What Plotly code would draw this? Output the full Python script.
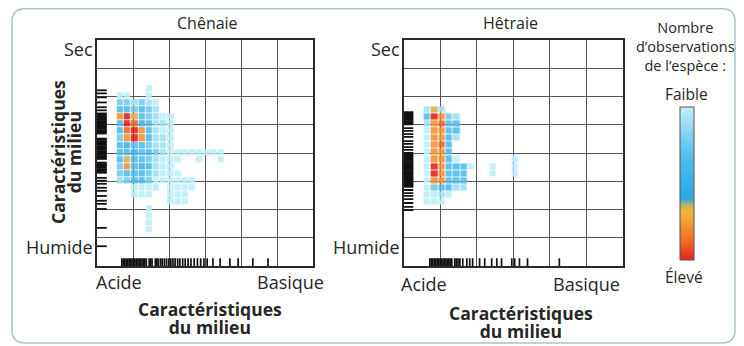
import plotly.graph_objects as go

# ---------------- data ----------------
panel_titles = ["Chênaie", "Hêtraie"]
y_labels = ["Sec", "Humide"]
x_labels = ["Acide", "Basique"]
axis_title = ["Caractéristiques", "du milieu"]
legend_title = ["Nombre", "d’observations", "de l’espèce :"]
legend_ends = ["Faible", "Élevé"]

# observation level per cell (0 = none, 1 = faible ... 10 = élevé), rows top -> bottom
chenaie_counts = [
    [0, 0, 0, 0, 1, 0, 0, 0, 0, 0, 0, 0, 0, 0, 0],
    [1, 1, 0, 0, 1, 0, 0, 0, 0, 0, 0, 0, 0, 0, 0],
    [3, 3, 2, 3, 2, 1, 0, 0, 0, 0, 0, 0, 0, 0, 0],
    [4, 4, 3, 4, 3, 2, 0, 0, 0, 0, 0, 0, 0, 0, 0],
    [8, 10, 7, 4, 3, 2, 1, 1, 0, 0, 0, 0, 0, 0, 0],
    [4, 10, 9, 5, 4, 2, 2, 1, 0, 0, 0, 0, 0, 0, 0],
    [4, 9, 10, 8, 4, 2, 1, 1, 0, 0, 0, 0, 0, 0, 0],
    [3, 8, 10, 8, 4, 2, 2, 1, 0, 0, 0, 0, 0, 0, 0],
    [4, 5, 4, 4, 3, 2, 2, 1, 0, 0, 0, 0, 0, 0, 0],
    [4, 4, 5, 4, 4, 3, 2, 1, 1, 1, 1, 1, 1, 1, 1],
    [4, 7, 4, 4, 3, 2, 1, 1, 1, 0, 0, 1, 0, 0, 1],
    [3, 8, 4, 5, 4, 2, 1, 1, 0, 0, 0, 0, 0, 0, 0],
    [3, 4, 4, 4, 3, 2, 1, 1, 1, 0, 0, 0, 0, 0, 0],
    [2, 3, 4, 4, 3, 1, 1, 1, 1, 1, 1, 0, 0, 0, 0],
    [0, 0, 1, 1, 1, 1, 0, 1, 1, 1, 1, 0, 0, 0, 0],
    [0, 0, 1, 1, 1, 0, 0, 1, 1, 1, 0, 0, 0, 0, 0],
    [0, 0, 0, 0, 0, 0, 0, 1, 1, 1, 0, 0, 0, 0, 0],
    [0, 0, 0, 0, 1, 0, 0, 0, 0, 0, 0, 0, 0, 0, 0],
    [0, 0, 0, 0, 1, 0, 0, 0, 0, 0, 0, 0, 0, 0, 0],
    [0, 0, 0, 0, 1, 0, 0, 0, 0, 0, 0, 0, 0, 0, 0],
    [0, 0, 0, 0, 1, 0, 0, 0, 0, 0, 0, 0, 0, 0, 0],
]

hetraie_counts = [
    [2, 7, 2, 0, 0, 0, 0, 0, 0, 0, 0, 0, 0],
    [4, 10, 8, 3, 2, 0, 0, 0, 0, 0, 0, 0, 0],
    [2, 8, 9, 4, 4, 0, 0, 0, 0, 0, 0, 0, 0],
    [1, 8, 8, 4, 4, 0, 0, 0, 0, 0, 0, 0, 0],
    [1, 8, 8, 4, 2, 0, 0, 0, 0, 0, 0, 0, 0],
    [1, 8, 9, 4, 0, 0, 0, 0, 0, 0, 0, 0, 0],
    [1, 8, 8, 4, 0, 0, 0, 0, 0, 0, 0, 0, 0],
    [1, 8, 8, 4, 1, 0, 0, 0, 0, 0, 0, 0, 1],
    [1, 10, 8, 4, 4, 4, 1, 0, 0, 1, 0, 0, 1],
    [1, 10, 8, 4, 4, 4, 0, 0, 0, 1, 0, 0, 1],
    [1, 8, 8, 4, 4, 4, 0, 0, 0, 0, 0, 0, 0],
    [1, 3, 4, 4, 2, 2, 0, 0, 0, 0, 0, 0, 0],
    [1, 1, 2, 1, 0, 0, 0, 0, 0, 0, 0, 0, 0],
    [1, 1, 1, 0, 0, 0, 0, 0, 0, 0, 0, 0, 0],
]

# marginal (rug) positions, in grid units (x: 0-6 acide->basique, y: 0-8 humide->sec)
chenaie_rug_y = [6.22, 6.11, 5.97, 5.79, 5.62, 5.51, 5.40, 5.36, 5.31, 5.27, 5.22, 5.18,
                 5.13, 5.08, 5.04, 4.99, 4.95, 4.90, 4.86, 4.81, 4.77, 4.73, 4.69, 4.51,
                 4.47, 4.42, 4.38, 4.33, 4.29, 4.24, 4.20, 4.15, 4.11, 4.06, 4.02, 3.97,
                 3.93, 3.88, 3.84, 3.79, 3.66, 3.61, 3.57, 3.52, 3.48, 3.43, 3.39, 3.34,
                 3.30, 3.12, 3.02, 2.91, 2.77, 2.66, 2.48, 2.31, 2.20, 2.02, 1.35, 0.70]
chenaie_rug_x = [0.69, 0.73, 0.77, 0.81, 0.85, 0.89, 0.93, 0.97, 1.01, 1.05, 1.09, 1.13,
                 1.17, 1.21, 1.25, 1.29, 1.33, 1.37, 1.45, 1.49, 1.53, 1.62, 1.66, 1.70,
                 1.76, 1.81, 1.87, 1.93, 1.99, 2.05, 2.11, 2.17, 2.24, 2.30, 2.38, 2.45,
                 2.53, 2.61, 2.70, 2.79, 2.88, 2.97, 3.06, 3.22, 3.42, 3.69, 3.92, 4.33, 4.75]
hetraie_rug_y = [5.45, 5.41, 5.37, 5.33, 5.29, 5.25, 5.21, 5.17, 5.13, 5.09, 5.05, 5.01,
                 4.88, 4.78, 4.67, 4.57, 4.42, 4.32, 4.21, 4.11, 4.00, 3.96, 3.92, 3.88,
                 3.84, 3.80, 3.76, 3.72, 3.68, 3.64, 3.60, 3.56, 3.52, 3.48, 3.44, 3.40,
                 3.36, 3.32, 3.28, 3.24, 3.20, 3.16, 3.12, 3.08, 3.04, 3.00, 2.96, 2.92,
                 2.88, 2.84, 2.80, 2.69, 2.58, 2.48, 2.37, 2.23, 2.09, 1.98]
hetraie_rug_x = [0.72, 0.76, 0.80, 0.84, 0.88, 0.92, 0.96, 1.00, 1.04, 1.08, 1.12, 1.16,
                 1.20, 1.24, 1.28, 1.32, 1.40, 1.44, 1.49, 1.54, 1.62, 1.73, 1.81, 1.89,
                 2.08, 2.22, 2.41, 2.55, 2.68, 2.96, 3.04, 3.17, 3.39, 4.26]

# ---------------- layout helpers ----------------
# the page body has an 8 px margin: positions below are given in page pixels
OFF = 8
W, H = 728, 338
ML, MT = 97 - OFF, 40 - OFF
PR, PB = 623 - OFF, 266 - OFF
MR, MB = W - PR, H - PB
PW, PH = PR - ML, PB - MT


def px(x):
    return (x - OFF - ML) / PW


def py(y):
    return (PB - (y - OFF)) / PH


FONT = "Open Sans, Noto Sans, sans-serif"
TXT = "#262626"

colorscale = [
    [0.0, "#e5231d"],
    [0.11, "#ee6528"],
    [0.22, "#f39232"],
    [0.31, "#f5b03a"],
    [0.36, "#b8b460"],
    [0.40, "#2aa8e6"],
    [0.56, "#3fb3eb"],
    [0.67, "#52bced"],
    [0.78, "#74cbf0"],
    [0.89, "#9edff4"],
    [1.0, "#bdeff8"],
]


def neg(counts):
    # high counts drawn at the bottom of the colour bar (Élevé), low at the top (Faible)
    return [[-v if v > 0 else None for v in row] for row in reversed(counts)]


fig = go.Figure()

CELL_W, CELL_H = 0.2, 0.25
X_START = 0.65
TOP_ROW = 6.275

fig.add_trace(go.Heatmap(
    z=neg(chenaie_counts), x0=X_START, dx=CELL_W,
    y0=TOP_ROW - CELL_H * (len(chenaie_counts) - 1), dy=CELL_H,
    coloraxis="coloraxis", xgap=0.8, ygap=0.8, opacity=0.9,
    hoverinfo="skip", xaxis="x", yaxis="y"))
fig.add_trace(go.Heatmap(
    z=neg(hetraie_counts), x0=X_START, dx=CELL_W,
    y0=TOP_ROW - CELL_H * 3 - CELL_H * (len(hetraie_counts) - 1), dy=CELL_H,
    coloraxis="coloraxis", xgap=0.8, ygap=0.8, opacity=0.9,
    hoverinfo="skip", xaxis="x2", yaxis="y2"))

rug_y_style = dict(symbol="line-ew", size=14, line=dict(color="#111", width=1.8))
rug_x_style = dict(symbol="line-ns", size=11, line=dict(color="#111", width=1.7))

for ry, rx, xa, ya in [(chenaie_rug_y, chenaie_rug_x, "x", "y"),
                       (hetraie_rug_y, hetraie_rug_x, "x2", "y2")]:
    fig.add_trace(go.Scatter(x=[0] * len(ry), y=ry, mode="markers", marker=rug_y_style,
                             hoverinfo="skip", showlegend=False, xaxis=xa, yaxis=ya))
    fig.add_trace(go.Scatter(x=rx, y=[0] * len(rx), mode="markers", marker=rug_x_style,
                             hoverinfo="skip", showlegend=False, xaxis=xa, yaxis=ya))

ax_common = dict(showgrid=True, gridcolor="#555555", gridwidth=1, showline=True, mirror=True,
                 linecolor="#2a2a2a", linewidth=1.5, showticklabels=False, ticks="",
                 zeroline=False, fixedrange=True, dtick=1, tick0=0)

fig.update_layout(
    width=W, height=H,
    margin=dict(l=ML, r=MR, t=MT, b=MB),
    paper_bgcolor="white", plot_bgcolor="white",
    showlegend=False,
    font=dict(family=FONT, color=TXT),
    xaxis=dict(domain=[0, px(313)], range=[0, 6], anchor="y", **ax_common),
    yaxis=dict(domain=[0, 1], range=[0, 8], anchor="x", **ax_common),
    xaxis2=dict(domain=[px(403.5), 1], range=[0, 6], anchor="y2", **ax_common),
    yaxis2=dict(domain=[0, 1], range=[0, 8], anchor="x2", **ax_common),
    coloraxis=dict(
        colorscale=colorscale, cmin=-10, cmax=-1,
        colorbar=dict(x=px(680), xanchor="left", y=py(183.5), yanchor="middle",
                      thickness=14, thicknessmode="pixels", len=153, lenmode="pixels",
                      showticklabels=False, ticks="", outlinecolor="#555", outlinewidth=1,
                      xpad=0, ypad=0, bgcolor="rgba(0,0,0,0)"),
    ),
)

# rounded outer frame (page pixels)
L, R, T, B, r = 12, 735, 8.8, 343, 13
rx_, ry_ = r / PW, r / PH
xl, xr, yt, yb = px(L), px(R), py(T), py(B)
path = (f"M {xl + rx_},{yt} L {xr - rx_},{yt} Q {xr},{yt} {xr},{yt - ry_} "
        f"L {xr},{yb + ry_} Q {xr},{yb} {xr - rx_},{yb} "
        f"L {xl + rx_},{yb} Q {xl},{yb} {xl},{yb + ry_} "
        f"L {xl},{yt - ry_} Q {xl},{yt} {xl + rx_},{yt} Z")
fig.add_shape(type="path", xref="paper", yref="paper", path=path,
              line=dict(color="#a9c3cb", width=1.5), layer="below")

ann = []


def add(text, x, y, size=18, xanchor="center", angle=0):
    ann.append(dict(text=text, x=px(x), y=py(y), xref="paper", yref="paper", showarrow=False,
                    xanchor=xanchor, yanchor="middle", textangle=angle,
                    font=dict(size=size, family=FONT, color=TXT)))


def two_lines(lines, glyph_px):
    # bold two-line title, tight leading like the original
    return "<br>".join(f"<span style='font-size:{glyph_px}px'><b>{t}</b></span>" for t in lines)


# panel titles
add(panel_titles[0], 207, 23, size=16)
add(panel_titles[1], 510, 23, size=16)
# y end labels
for xr_lab in (95, 402):
    add(y_labels[0], xr_lab, 49, xanchor="right")
    add(y_labels[1], xr_lab, 247, xanchor="right")
# x end labels
add(x_labels[0], 119, 282)
add(x_labels[1], 290, 282)
add(x_labels[0], 424, 284)
add(x_labels[1], 586, 284)
# x axis titles
add(two_lines(axis_title, 17.5), 210, 318, size=14)
add(two_lines(axis_title, 17.5), 521, 322, size=14)
# y axis title (rotated)
add(two_lines(axis_title, 17.5), 66, 152, size=12.5, angle=-90)
# colour legend
add("<br>".join(legend_title), 685, 46, size=14.5)
add(legend_ends[0], 686, 94, size=15.5)
add(legend_ends[1], 684, 277, size=15.5)

fig.update_layout(annotations=ann)

fig.write_html("out.html")
